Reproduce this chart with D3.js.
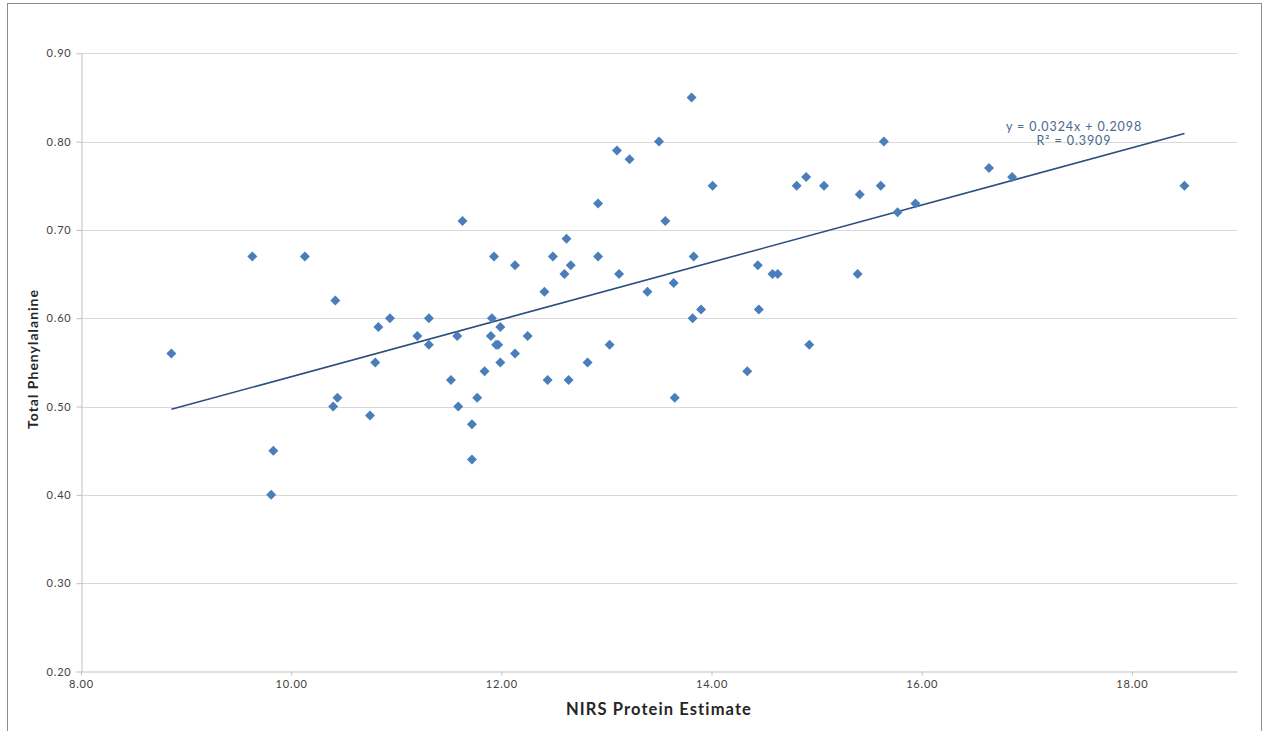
<!DOCTYPE html>
<html><head><meta charset="utf-8">
<script src="https://cdn.jsdelivr.net/npm/d3@7"></script>
<style>body{margin:0;background:#fff;} svg{display:block;}</style>
</head><body>
<script>
const xValues = [8.86,9.63,9.83,9.81,10.13,10.42,10.40,10.44,10.75,10.80,10.83,10.94,11.20,11.31,11.31,11.52,11.58,11.59,11.63,11.72,11.72,11.77,11.84,11.90,11.91,11.93,11.95,11.97,11.99,11.99,12.13,12.13,12.25,12.41,12.44,12.49,12.60,12.62,12.64,12.66,12.82,12.92,12.92,13.03,13.10,13.12,13.22,13.39,13.50,13.56,13.64,13.65,13.81,13.82,13.83,13.90,14.01,14.34,14.44,14.45,14.58,14.63,14.81,14.90,14.93,15.07,15.39,15.41,15.61,15.64,15.77,15.94,16.64,16.86,18.50];
const yValues = [0.56,0.67,0.45,0.40,0.67,0.62,0.50,0.51,0.49,0.55,0.59,0.60,0.58,0.60,0.57,0.53,0.58,0.50,0.71,0.48,0.44,0.51,0.54,0.58,0.60,0.67,0.57,0.57,0.59,0.55,0.66,0.56,0.58,0.63,0.53,0.67,0.65,0.69,0.53,0.66,0.55,0.73,0.67,0.57,0.79,0.65,0.78,0.63,0.80,0.71,0.64,0.51,0.85,0.60,0.67,0.61,0.75,0.54,0.66,0.61,0.65,0.65,0.75,0.76,0.57,0.75,0.65,0.74,0.75,0.80,0.72,0.73,0.77,0.76,0.75];
const xTicks = [8,10,12,14,16,18];
const yTicks = [0.2,0.3,0.4,0.5,0.6,0.7,0.8,0.9];
const trendSlope = 0.0324, trendIntercept = 0.2098;
const eqLines = ["y = 0.0324x + 0.2098", "R² = 0.3909"];
const xTitle = "NIRS Protein Estimate", yTitle = "Total Phenylalanine";

const W = 1266, H = 731;
const svg = d3.select("body").append("svg").attr("width", W).attr("height", H);
svg.append("rect").attr("x",7.5).attr("y",3.5).attr("width",1254).attr("height",740)
  .attr("fill","#fff").attr("stroke","#8c8c8c").attr("stroke-width",1);

const x = d3.scaleLinear().domain([8,19]).range([81,1237]);
const y = d3.scaleLinear().domain([0.2,0.9]).range([671.5,53.3]);
const font = "Lato, 'Open Sans', sans-serif";

// gridlines
svg.append("g").selectAll("line").data(yTicks.filter(d=>d>0.2)).join("line")
  .attr("x1",81).attr("x2",1237).attr("y1",d=>Math.round(y(d))+0.5).attr("y2",d=>Math.round(y(d))+0.5)
  .attr("stroke","#d9d9d9").attr("stroke-width",1.2);

const yAxis = svg.append("g").attr("transform","translate(81.5,0)")
  .call(d3.axisLeft(y).tickValues(yTicks).tickFormat(d3.format(".2f")).tickSize(5).tickSizeOuter(0));
const xAxis = svg.append("g").attr("transform","translate(0,671.5)")
  .call(d3.axisBottom(x).tickValues(xTicks).tickFormat(d3.format(".2f")).tickSize(4).tickSizeOuter(0));
[yAxis,xAxis].forEach(a=>{
  a.select(".domain").attr("stroke","#bfbfbf");
  a.selectAll(".tick line").attr("stroke","#bfbfbf");
  a.selectAll("text").attr("fill","#404040").attr("font-family",font).attr("font-size",11)
    .attr("letter-spacing","0.8px");
});
yAxis.selectAll("text").attr("x",-10);
xAxis.selectAll("text").attr("y",9);

// trend line
const xMin = d3.min(xValues), xMax = d3.max(xValues);
svg.append("line")
  .attr("x1",x(xMin)).attr("y1",y(trendSlope*xMin+trendIntercept))
  .attr("x2",x(xMax)).attr("y2",y(trendSlope*xMax+trendIntercept))
  .attr("stroke","#2b4f7e").attr("stroke-width",1.6);

// points
const sym = d3.symbol().type(d3.symbolSquare).size(50);
svg.append("g").selectAll("path").data(xValues.map((v,i)=>[v,yValues[i]])).join("path")
  .attr("d",sym).attr("transform",d=>`translate(${x(d[0])},${y(d[1])}) rotate(45)`)
  .attr("fill","#4a7ebb");

// equation
svg.append("g").selectAll("text").data(eqLines).join("text")
  .attr("x",1074).attr("y",(d,i)=>131+i*14).attr("text-anchor","middle")
  .attr("font-family",font).attr("font-size",12.5).attr("letter-spacing","0.9px")
  .attr("fill","#4a6790").text(d=>d);

// titles
svg.append("text").attr("x",659).attr("y",715).attr("text-anchor","middle")
  .attr("font-family",font).attr("font-weight","bold").attr("font-size",16.5).attr("letter-spacing","1.1px")
  .attr("fill","#262626").text(xTitle);
svg.append("text").attr("transform","translate(38,359) rotate(-90)").attr("text-anchor","middle")
  .attr("font-family",font).attr("font-weight","bold").attr("font-size",14).attr("letter-spacing","1px")
  .attr("fill","#262626").text(yTitle);
</script>
</body></html>
